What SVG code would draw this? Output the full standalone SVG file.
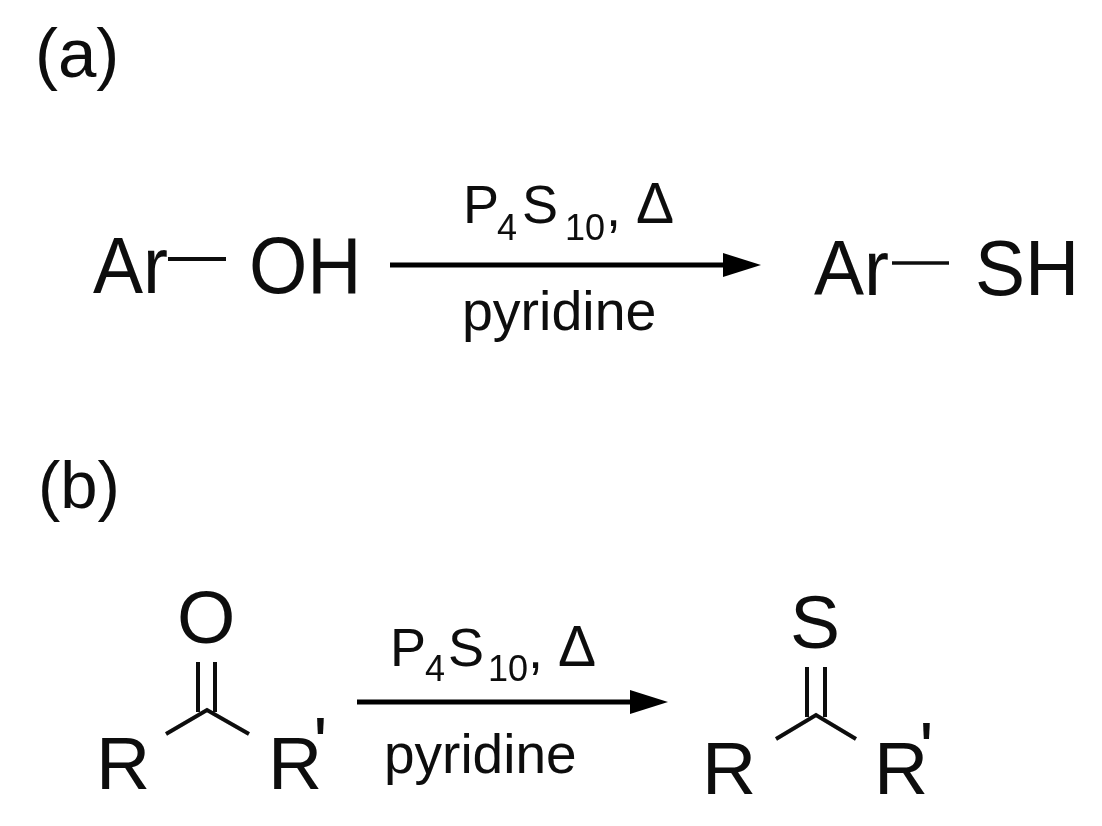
<svg xmlns="http://www.w3.org/2000/svg" width="1102" height="826" viewBox="0 0 1102 826">
<style>
text{font-family:"Liberation Sans",Arial,sans-serif;fill:#0a0a0a}
.big{font-size:75px}
.mid{font-size:54px}
.delta{font-size:57px}
.pyr{font-size:55.5px}
.sub{font-size:36px}
.bond{stroke:#0a0a0a;stroke-width:4;fill:none}
.arrow{stroke:#000;stroke-width:5;fill:none}
.tight{letter-spacing:-9px}
.prime{letter-spacing:0}
</style>
<defs>
<marker id="head" markerUnits="userSpaceOnUse" markerWidth="40" markerHeight="26" refX="2" refY="12" orient="auto"><path d="M0 0L38 12L0 24Z" fill="#000"/></marker>
<filter id="soft" x="0" y="0" width="1" height="1"><feGaussianBlur stdDeviation="0.7"/></filter>
</defs>
<rect width="1102" height="826" fill="#fff"/>
<g filter="url(#soft)">
<g id="label-a"><text x="35" y="77" style="font-size:69px">(a)</text></g>
<g id="label-b"><text x="38" y="508" style="font-size:67px">(b)</text></g>
<g id="reactant-a"><text class="big" transform="translate(93 293) scale(1 1.06)">Ar</text><text class="big" transform="translate(249 293) scale(1 1.06)">OH</text></g>
<g id="product-a"><text class="big" transform="translate(814 295) scale(1 1.03)">Ar</text><text class="big" transform="translate(975 295) scale(1 1.03)">SH</text></g>
<g id="reagents-a"><text class="mid" x="463" y="223">P</text><text class="sub" x="497" y="240">4</text><text class="mid" x="522" y="223">S</text><text class="sub" x="565" y="240">10</text><text class="mid" x="606" y="226">,</text><text class="delta" x="636" y="223">Δ</text><text class="pyr" x="462" y="330">pyridine</text></g>
<g id="reagents-b"><text class="mid" x="390" y="666">P</text><text class="sub" x="425" y="681">4</text><text class="mid" x="448" y="666">S</text><text class="sub" x="488" y="681">10</text><text class="mid" x="528" y="668">,</text><text class="delta" x="558" y="666">Δ</text><text class="pyr" x="384" y="773" style="font-size:55px">pyridine</text></g>
<g id="reactant-b"><text class="big" x="96" y="789">R</text><text class="big tight" x="268" y="789">R<tspan class="prime" dy="-20">'</tspan></text><text class="big" x="177" y="643">O</text></g>
<g id="product-b"><text class="big" x="702" y="794">R</text><text class="big tight" x="874" y="794">R<tspan class="prime" dy="-20">'</tspan></text><text class="big" x="790" y="648">S</text></g>
<g id="connectors">
<path class="arrow" d="M390 265H725" marker-end="url(#head)"/>
<path class="arrow" d="M357 702H632" marker-end="url(#head)"/>
<path class="bond" d="M168 259H226"/>
<path class="bond" style="stroke-width:3.5" d="M892 263H949"/>
<path class="bond" d="M198 662V712M215 662V712M166 734L207 710L249 734"/>
<path class="bond" d="M807 667V717M825 667V717M776 739L816 715L856 739"/>
</g>
</g>
</svg>
